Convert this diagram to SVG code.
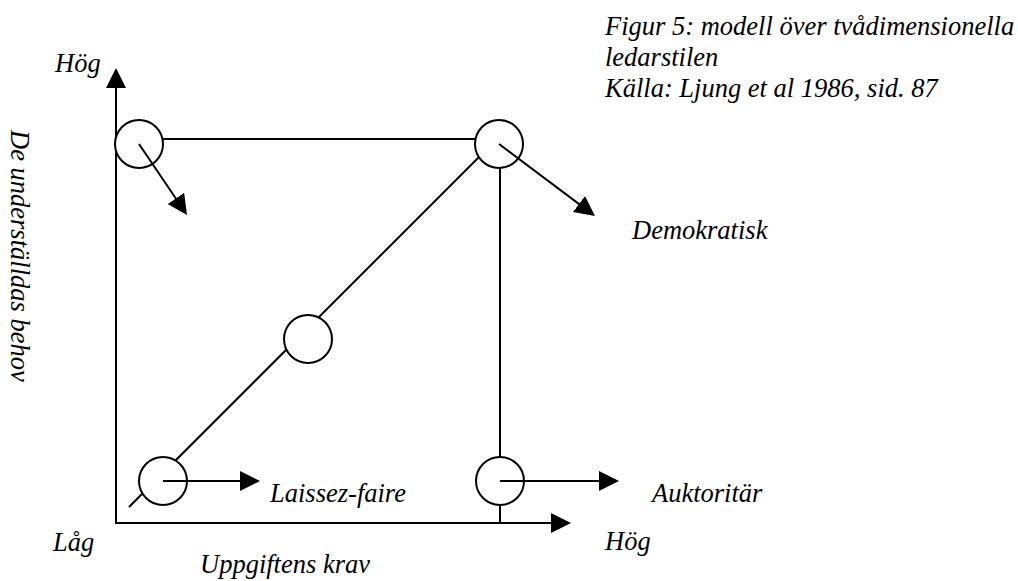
<svg xmlns="http://www.w3.org/2000/svg" width="1018" height="581" viewBox="0 0 1018 581">
  <style>
    .lbl { font-family: 'Liberation Serif', 'DejaVu Serif', serif; font-style: italic; font-size: 26.5px; fill: #000; }
    .ln { stroke: #000; stroke-width: 2; fill: none; }
    .arr { stroke: #000; stroke-width: 2; fill: none; marker-end: url(#head); }
    .node { fill: #fff; stroke: #000; stroke-width: 2; }
  </style>
  <defs>
    <marker id="head" markerUnits="userSpaceOnUse" markerWidth="20" markerHeight="20" refX="1" refY="10" orient="auto">
      <path d="M0,0 L20,10 L0,20 z" fill="#000"/>
    </marker>
  </defs>
  <rect width="1018" height="581" fill="#fff"/>

  <!-- connectors: axes, grid lines and style arrows -->
  <g id="connectors">
    <line class="arr" x1="116" y1="523" x2="116" y2="87"/>
    <line class="arr" x1="115" y1="523" x2="552" y2="523"/>
    <line class="ln" x1="139" y1="139" x2="499" y2="139"/>
    <line class="ln" x1="129" y1="507" x2="490" y2="146"/>
    <line class="ln" x1="500" y1="144" x2="500" y2="523"/>
  </g>

  <!-- style nodes -->
  <g id="node-top-left">
    <circle class="node" cx="139" cy="144" r="24"/>
  </g>
  <g id="node-top-right">
    <circle class="node" cx="499" cy="144" r="24"/>
  </g>
  <g id="node-middle">
    <circle class="node" cx="308" cy="339" r="24"/>
  </g>
  <g id="node-bottom-left">
    <circle class="node" cx="163" cy="481" r="24"/>
  </g>
  <g id="node-bottom-right">
    <circle class="node" cx="500" cy="481" r="24"/>
  </g>

  <!-- arrows leaving the nodes -->
  <g id="node-arrows">
    <line class="arr" x1="139" y1="144" x2="176.4" y2="199.3"/>
    <line class="arr" x1="499" y1="144" x2="579.8" y2="204.6"/>
    <line class="arr" x1="163" y1="481" x2="241" y2="481"/>
    <line class="arr" x1="500" y1="481" x2="600" y2="481"/>
  </g>

  <!-- labels -->
  <g id="labels">
    <text class="lbl" x="605" y="35">Figur 5: modell över tvådimensionella</text>
    <text class="lbl" x="605" y="66">ledarstilen</text>
    <text class="lbl" x="605" y="97">Källa: Ljung et al 1986, sid. 87</text>
    <text class="lbl" x="55" y="72">Hög</text>
    <text class="lbl" x="53" y="551">Låg</text>
    <text class="lbl" x="605" y="550">Hög</text>
    <text class="lbl" x="200" y="573">Uppgiftens krav</text>
    <text class="lbl" x="270" y="502">Laissez-faire</text>
    <text class="lbl" x="652" y="502">Auktoritär</text>
    <text class="lbl" x="632" y="239">Demokratisk</text>
    <text class="lbl" transform="translate(11,130) rotate(90)">De underställdas behov</text>
  </g>
</svg>
